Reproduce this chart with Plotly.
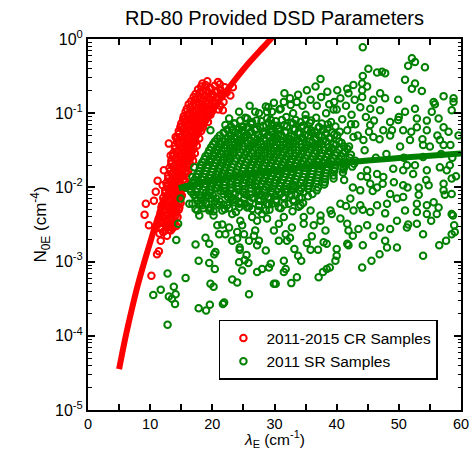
import plotly.graph_objects as go

# ---------------- data ----------------
# 2011-2015 CR samples: lambda_E (cm^-1) and log10 of N0E (cm^-4)
cr_lambda = [
    11.5, 12.1, 12.7, 13.3,
    11.2, 11.8, 12.4, 13.0, 13.6, 14.2,
    11.4, 12.0, 12.6, 13.2, 13.8, 14.4,
    11.7, 12.3, 12.9, 13.5, 14.1, 14.6,
    11.9, 12.5, 13.1, 13.7, 14.3, 14.9,
    12.1, 12.7, 13.3, 13.9, 14.5, 15.1,
    12.4, 13.0, 13.6, 14.2, 14.8, 15.3,
    12.6, 13.2, 13.8, 14.4, 15.0, 15.6,
    12.9, 13.5, 14.1, 14.7, 15.3, 15.9,
    13.1, 13.7, 14.3, 14.9, 15.5, 16.1,
    13.4, 14.0, 14.6, 15.2, 15.8, 16.4, 16.9,
    13.7, 14.3, 14.9, 15.5, 16.1, 16.7, 17.2,
    14.0, 14.6, 15.2, 15.8, 16.4, 17.0, 17.5,
    14.3, 14.9, 15.5, 16.1, 16.7, 17.3, 17.9,
    14.6, 15.2, 15.8, 16.4, 17.0, 17.6, 18.2,
    15.0, 15.6, 16.2, 16.8, 17.4, 18.0, 18.6, 19.3,
    15.4, 16.0, 16.6, 17.2, 17.8, 18.4, 19.0, 19.7,
    15.9, 16.5, 17.1, 17.7, 18.3, 18.9, 19.5, 20.2, 21.0,
    16.6, 17.2, 17.8, 18.4, 19.0, 19.6, 20.2, 20.9, 21.8,
    17.3, 18.0, 18.7, 19.4, 20.1, 20.8, 21.5, 22.3,
    18.2, 18.9, 19.6, 20.4, 21.2, 22.0,
    # in-between rows
    11.8, 12.4, 13.0, 13.6,
    11.5, 12.1, 12.7, 13.3, 13.9,
    11.7, 12.3, 12.9, 13.5, 14.1,
    11.8, 12.4, 13.0, 13.6, 14.2, 14.7,
    12.2, 12.8, 13.4, 14.0, 14.6,
    12.4, 13.0, 13.6, 14.2, 14.8,
    12.7, 13.3, 13.9, 14.5, 15.1,
    12.9, 13.5, 14.1, 14.7, 15.3,
    13.2, 13.8, 14.4, 15.0, 15.6, 16.1,
    13.4, 14.0, 14.6, 15.2, 15.8, 16.4,
    13.7, 14.3, 14.9, 15.5, 16.1, 16.7,
    14.0, 14.6, 15.2, 15.8, 16.4, 17.0,
    14.3, 14.9, 15.5, 16.1, 16.7, 17.3,
    14.6, 15.2, 15.8, 16.4, 17.0, 17.6,
    14.9, 15.5, 16.1, 16.7, 17.3, 17.9, 18.5,
    15.3, 15.9, 16.5, 17.1, 17.7, 18.3, 18.9,
    15.7, 16.3, 16.9, 17.5, 18.1, 18.7, 19.3, 20.0,
    16.2, 16.8, 17.4, 18.0, 18.6, 19.2, 19.8, 20.5, 21.3,
    17.0, 17.6, 18.2, 18.8, 19.4, 20.0, 20.7, 21.5,
    17.7, 18.4, 19.1, 19.8, 20.5, 21.3,
    # outliers
    9.1, 9.3, 9.8, 10.2, 10.6, 10.9, 11.1, 11.4, 11.7, 11.2,
    12.2, 12.0, 13.3, 13.0, 14.1, 14.9, 15.7, 21.7, 22.9, 23.3,
    18.4, 20.9, 19.2,
]
cr_log10_n0 = [
    -2.62, -2.60, -2.65, -2.58,
    -2.50, -2.54, -2.50, -2.53, -2.49, -2.52,
    -2.42, -2.40, -2.44, -2.41, -2.43, -2.40,
    -2.33, -2.31, -2.35, -2.32, -2.34, -2.30,
    -2.24, -2.22, -2.26, -2.23, -2.25, -2.21,
    -2.14, -2.12, -2.16, -2.13, -2.15, -2.11,
    -2.04, -2.02, -2.06, -2.03, -2.05, -2.01,
    -1.94, -1.92, -1.96, -1.93, -1.95, -1.91,
    -1.84, -1.82, -1.86, -1.83, -1.85, -1.81,
    -1.74, -1.72, -1.76, -1.73, -1.75, -1.71,
    -1.64, -1.62, -1.66, -1.63, -1.65, -1.61, -1.64,
    -1.54, -1.52, -1.56, -1.53, -1.55, -1.51, -1.54,
    -1.44, -1.42, -1.46, -1.43, -1.45, -1.41, -1.44,
    -1.34, -1.32, -1.36, -1.33, -1.35, -1.31, -1.34,
    -1.24, -1.22, -1.26, -1.23, -1.25, -1.21, -1.24,
    -1.14, -1.12, -1.16, -1.13, -1.15, -1.11, -1.14, -1.12,
    -1.04, -1.02, -1.06, -1.03, -1.05, -1.01, -1.04, -1.02,
    -0.94, -0.92, -0.96, -0.93, -0.95, -0.91, -0.94, -0.92, -0.95,
    -0.84, -0.82, -0.86, -0.83, -0.85, -0.81, -0.84, -0.82, -0.85,
    -0.74, -0.72, -0.76, -0.73, -0.75, -0.71, -0.74, -0.72,
    -0.64, -0.62, -0.66, -0.63, -0.61, -0.65,
    # in-between rows
    -2.56, -2.58, -2.57, -2.55,
    -2.46, -2.48, -2.47, -2.45, -2.48,
    -2.36, -2.38, -2.37, -2.35, -2.38,
    -2.27, -2.29, -2.28, -2.26, -2.29, -2.27,
    -2.18, -2.20, -2.19, -2.17, -2.20,
    -2.08, -2.10, -2.09, -2.07, -2.10,
    -1.98, -2.00, -1.99, -1.97, -2.00,
    -1.88, -1.90, -1.89, -1.87, -1.90,
    -1.78, -1.80, -1.79, -1.77, -1.80, -1.78,
    -1.68, -1.70, -1.69, -1.67, -1.70, -1.68,
    -1.58, -1.60, -1.59, -1.57, -1.60, -1.58,
    -1.48, -1.50, -1.49, -1.47, -1.50, -1.48,
    -1.38, -1.40, -1.39, -1.37, -1.40, -1.38,
    -1.28, -1.30, -1.29, -1.27, -1.30, -1.28,
    -1.18, -1.20, -1.19, -1.17, -1.20, -1.18, -1.19,
    -1.08, -1.10, -1.09, -1.07, -1.10, -1.08, -1.09,
    -0.98, -1.00, -0.99, -0.97, -1.00, -0.98, -0.99, -0.97,
    -0.88, -0.90, -0.89, -0.87, -0.90, -0.88, -0.89, -0.87, -0.90,
    -0.78, -0.80, -0.79, -0.77, -0.80, -0.78, -0.79, -0.77,
    -0.68, -0.70, -0.69, -0.67, -0.70, -0.68,
    # outliers
    -2.37, -2.22, -2.51, -3.19, -2.18, -2.06, -2.90, -2.86, -2.72, -1.91,
    -1.77, -1.97, -1.57, -1.41, -1.32, -1.19, -1.07, -0.96, -0.76, -0.65,
    -0.60, -0.58, -0.57,
]

# 2011 SR samples: lambda_E (cm^-1) and log10 of N0E (cm^-4)
sr_lambda = [
    # dense core
    25.3, 27.1, 28.8, 30.2, 31.9, 33.4, 35.0, 36.7,
    23.6, 25.0, 26.3, 27.7, 29.0, 30.4, 31.6, 33.0, 34.3, 35.7, 37.1, 38.6,
    22.4, 23.7, 24.8, 26.0, 27.1, 28.3, 29.5, 30.6, 31.8, 33.0, 34.1, 35.3, 36.5, 37.8, 39.2,
    21.2, 22.5, 23.5, 24.6, 25.6, 26.7, 27.8, 28.9, 30.0, 31.1, 32.2, 33.2, 34.3, 35.4, 36.5, 37.6, 38.8, 40.1,
    20.4, 21.5, 22.6, 23.6, 24.6, 25.7, 26.7, 27.7, 28.8, 29.8, 30.9, 31.9, 33.0, 34.0, 35.1, 36.1, 37.2, 38.3, 39.5, 40.8,
    19.8, 20.9, 21.9, 22.9, 23.9, 24.9, 25.9, 26.9, 27.9, 28.9, 29.9, 30.9, 31.9, 32.9, 33.9, 34.9, 35.9, 37.0, 38.1, 39.2, 40.4, 41.7,
    19.3, 20.3, 21.3, 22.3, 23.3, 24.3, 25.3, 26.3, 27.3, 28.3, 29.3, 30.3, 31.3, 32.3, 33.3, 34.3, 35.3, 36.4, 37.5, 38.6, 39.8, 41.0, 42.3,
    18.7, 19.7, 20.7, 21.7, 22.7, 23.7, 24.7, 25.7, 26.7, 27.7, 28.7, 29.7, 30.7, 31.7, 32.7, 33.7, 34.7, 35.8, 36.9, 38.0, 39.2, 40.4, 41.7, 43.0,
    18.2, 19.2, 20.2, 21.2, 22.2, 23.2, 24.2, 25.2, 26.2, 27.2, 28.2, 29.2, 30.2, 31.2, 32.2, 33.2, 34.2, 35.2, 36.3, 37.4, 38.6, 39.8, 41.1, 42.5,
    17.9, 18.9, 19.9, 20.9, 21.9, 22.9, 23.9, 24.9, 25.9, 26.9, 27.9, 28.9, 29.9, 30.9, 31.9, 32.9, 33.9, 34.9, 36.0, 37.1, 38.3, 39.6, 41.0,
    17.4, 18.4, 19.4, 20.4, 21.4, 22.4, 23.4, 24.4, 25.4, 26.4, 27.4, 28.4, 29.4, 30.4, 31.4, 32.4, 33.5, 34.6, 35.7, 36.9, 38.1, 39.5,
    16.8, 17.9, 18.9, 19.9, 20.9, 21.9, 22.9, 23.9, 24.9, 25.9, 26.9, 27.9, 28.9, 29.9, 30.9, 32.0, 33.1, 34.2, 35.4, 36.7, 38.0,
    16.3, 17.4, 18.5, 19.6, 20.7, 21.8, 22.9, 24.0, 25.1, 26.2, 27.3, 28.4, 29.5, 30.6, 31.7, 32.9, 34.1, 35.4, 36.8,
    17.0, 18.2, 19.4, 20.6, 21.8, 23.0, 24.2, 25.4, 26.6, 27.8, 29.0, 30.2, 31.4, 32.7, 34.0, 35.4,
    17.6, 19.0, 20.4, 21.8, 23.2, 24.6, 26.0, 27.4, 28.8, 30.2, 31.6, 33.1, 34.6,
    18.5, 20.2, 22.0, 23.8, 25.6, 27.4, 29.2, 31.0, 32.9,
    # dense core, in-between rows
    24.5, 26.2, 27.9, 29.6, 31.2, 32.7, 34.2, 35.9, 37.6,
    23.0, 24.3, 25.6, 26.9, 28.2, 29.4, 30.7, 32.0, 33.3, 34.6, 35.9, 37.2, 38.5, 39.8,
    21.8, 23.0, 24.1, 25.2, 26.2, 27.3, 28.4, 29.5, 30.6, 31.7, 32.7, 33.8, 34.9, 36.0, 37.1, 38.3, 39.6,
    20.8, 22.0, 23.0, 24.1, 25.1, 26.2, 27.2, 28.3, 29.3, 30.4, 31.4, 32.5, 33.5, 34.6, 35.6, 36.7, 37.8, 39.0, 40.4,
    20.1, 21.1, 22.2, 23.2, 24.2, 25.2, 26.2, 27.3, 28.3, 29.3, 30.3, 31.4, 32.4, 33.4, 34.4, 35.4, 36.5, 37.6, 38.7, 39.9, 41.2,
    19.5, 20.5, 21.5, 22.5, 23.5, 24.5, 25.5, 26.5, 27.5, 28.5, 29.5, 30.5, 31.5, 32.5, 33.5, 34.5, 35.5, 36.6, 37.7, 38.8, 40.0, 41.3,
    18.9, 19.9, 20.9, 21.9, 22.9, 23.9, 24.9, 25.9, 26.9, 27.9, 28.9, 29.9, 30.9, 31.9, 32.9, 33.9, 35.0, 36.1, 37.2, 38.3, 39.5, 40.8, 42.1,
    18.4, 19.4, 20.4, 21.4, 22.4, 23.4, 24.4, 25.4, 26.4, 27.4, 28.4, 29.4, 30.4, 31.4, 32.4, 33.4, 34.4, 35.5, 36.6, 37.7, 38.9, 40.1, 41.4, 42.8,
    18.0, 19.0, 20.0, 21.0, 22.0, 23.0, 24.0, 25.0, 26.0, 27.0, 28.0, 29.0, 30.0, 31.0, 32.0, 33.0, 34.0, 35.0, 36.1, 37.2, 38.4, 39.7, 41.1,
    17.6, 18.6, 19.6, 20.6, 21.6, 22.6, 23.6, 24.6, 25.6, 26.6, 27.6, 28.6, 29.6, 30.6, 31.6, 32.6, 33.7, 34.8, 35.9, 37.0, 38.2, 39.5,
    17.1, 18.1, 19.1, 20.1, 21.1, 22.1, 23.1, 24.1, 25.1, 26.1, 27.1, 28.1, 29.1, 30.1, 31.1, 32.2, 33.3, 34.4, 35.6, 36.8, 38.1,
    16.5, 17.6, 18.7, 19.8, 20.9, 22.0, 23.1, 24.2, 25.3, 26.4, 27.5, 28.6, 29.7, 30.8, 31.9, 33.1, 34.3, 35.6, 37.0,
    16.6, 17.8, 19.0, 20.1, 21.3, 22.5, 23.7, 24.9, 26.1, 27.3, 28.5, 29.7, 30.9, 32.1, 33.4, 34.7, 36.1,
    17.3, 18.6, 19.9, 21.2, 22.5, 23.8, 25.1, 26.4, 27.7, 29.0, 30.3, 31.6, 33.0, 34.4,
    18.0, 19.6, 21.1, 22.7, 24.3, 25.9, 27.5, 29.1, 30.7, 32.3, 33.9,
    # lower-left tail
    10.5, 11.7, 12.8, 13.0, 13.5, 13.8, 14.1, 14.0, 12.8, 14.5,
    14.2, 15.7, 17.8, 19.0, 19.6, 19.7, 20.2, 17.8, 17.3, 18.9,
    19.5, 19.5, 20.3, 20.5, 20.4, 21.7, 21.9, 23.2, 24.0, 24.3,
    24.8, 24.4, 25.9, 25.2, 25.5, 25.8, 27.2, 28.0, 29.1, 28.6,
    27.2, 27.5, 26.9, 26.7, 25.9, 25.1, 24.0, 22.1, 21.1, 21.6,
    20.8, 22.7, 23.2, 24.5, 24.8, 26.4, 27.2, 28.0, 28.8, 24.0,
    23.2, 24.4, 29.9,
    16.8, 17.6, 18.4, 19.7, 20.8, 21.6, 22.4, 23.5, 24.3, 25.3, 26.4, 27.5, 28.6, 29.6,
    # lower-right
    30.2, 32.7, 33.6, 31.5, 31.8, 31.5, 29.4, 37.1, 37.8, 38.4,
    38.9, 39.8, 40.0, 34.3, 33.8, 33.2, 35.8, 37.0, 35.2, 36.0,
    37.9, 38.4, 38.2, 40.0, 41.7, 41.9, 42.6, 44.2, 44.1, 45.6,
    46.9, 48.1, 47.8, 49.7, 51.3, 52.9, 53.9, 53.9, 56.5, 57.6,
    58.5, 58.9, 58.7, 56.1, 54.5, 52.9, 51.0, 49.7, 48.6, 47.0,
    45.9, 44.9, 43.5, 41.9, 41.7, 40.6, 39.2, 37.4, 36.3, 34.7,
    32.8, 30.7, 29.9, 32.0, 30.7, 31.8, 32.5, 35.8, 34.2, 42.7,
    43.8, 45.4, 46.5, 48.1,
    # upper-right
    44.2, 52.1, 52.6, 51.5, 54.2, 45.1, 46.5, 47.3, 47.8, 44.2,
    37.4, 51.0, 52.6, 36.6, 35.2, 31.6, 29.9, 52.1, 53.7, 57.2,
    58.8, 58.8, 58.5, 42.7, 44.1, 44.1, 44.1, 44.9, 40.1, 41.7,
    41.9, 38.5, 40.6, 47.0, 47.8, 45.9, 49.9, 51.0, 52.6, 55.6,
    55.8, 55.3, 56.4, 57.2, 52.9, 49.9, 48.6, 47.0, 45.4, 33.6,
    32.6, 31.0, 29.6, 52.9, 54.5, 50.7, 48.9, 47.5, 45.9, 44.3,
    42.7, 41.7, 45.4, 51.8, 53.9, 56.6, 57.2, 58.3, 53.9, 51.3,
    50.7, 52.3, 54.5, 56.6, 58.2, 57.7, 58.5, 57.2, 54.8, 53.2,
    50.7, 49.2, 47.5, 46.5, 44.9, 44.9, 45.4, 46.5, 48.6, 50.7,
    52.9, 54.5, 56.4, 58.5, 57.2, 58.5, 43.8, 42.2, 40.6, 39.0,
    37.4, 34.7, 31.5,
    # upper-left edge
    19.7, 24.3, 25.6, 26.9, 28.6, 28.8, 29.4, 22.7, 22.1, 23.5,
    21.9, 23.2, 24.8, 26.4, 21.1, 20.8, 19.5, 18.1, 17.1, 16.8,
    15.7, 14.9, 16.3, 17.3, 17.9, 19.5, 20.2, 18.9, 20.5,
    # right-side scatter
    40.5, 41.2, 42.0, 42.6, 43.4, 43.9, 44.5, 45.2, 45.8, 46.3,
    46.9, 47.4, 48.0, 48.6, 49.1, 49.7, 50.2, 50.8, 51.4, 52.0,
    52.6, 53.2, 53.8, 54.4, 55.0, 55.6, 56.2, 56.8, 57.4, 58.0,
    58.6, 59.2, 59.6, 41.5, 44.2, 47.8, 51.5, 55.2, 59.0, 42.3,
    46.0, 50.0, 54.5,
    # above core
    38.3, 39.1, 40.0, 40.9, 41.5, 42.4, 43.0, 43.8, 44.7, 39.6,
    42.9, 31.5, 32.5, 33.8, 34.5, 35.8, 36.8, 37.5, 38.8, 39.5,
    27.5, 26.0, 30.8, 33.0, 35.0, 29.0,
]
sr_log10_n0 = [
    # dense core
    -1.06, -1.10, -1.07, -1.11, -1.05, -1.09, -1.08, -1.06,
    -1.14, -1.18, -1.15, -1.19, -1.13, -1.17, -1.16, -1.14, -1.18, -1.13, -1.19, -1.15,
    -1.22, -1.26, -1.23, -1.27, -1.21, -1.25, -1.24, -1.22, -1.26, -1.21, -1.27, -1.23, -1.25, -1.22, -1.26,
    -1.30, -1.34, -1.31, -1.35, -1.29, -1.33, -1.32, -1.30, -1.34, -1.29, -1.35, -1.31, -1.33, -1.30, -1.34, -1.31, -1.33, -1.30,
    -1.38, -1.42, -1.39, -1.43, -1.37, -1.41, -1.40, -1.38, -1.42, -1.37, -1.43, -1.39, -1.41, -1.38, -1.42, -1.39, -1.41, -1.38, -1.42, -1.40,
    -1.46, -1.50, -1.47, -1.51, -1.45, -1.49, -1.48, -1.46, -1.50, -1.45, -1.51, -1.47, -1.49, -1.46, -1.50, -1.47, -1.49, -1.46, -1.50, -1.47, -1.49, -1.48,
    -1.54, -1.58, -1.55, -1.59, -1.53, -1.57, -1.56, -1.54, -1.58, -1.53, -1.59, -1.55, -1.57, -1.54, -1.58, -1.55, -1.57, -1.54, -1.58, -1.55, -1.57, -1.54, -1.56,
    -1.62, -1.66, -1.63, -1.67, -1.61, -1.65, -1.64, -1.62, -1.66, -1.61, -1.67, -1.63, -1.65, -1.62, -1.66, -1.63, -1.65, -1.62, -1.66, -1.63, -1.65, -1.62, -1.66, -1.64,
    -1.70, -1.74, -1.71, -1.75, -1.69, -1.73, -1.72, -1.70, -1.74, -1.69, -1.75, -1.71, -1.73, -1.70, -1.74, -1.71, -1.73, -1.70, -1.74, -1.71, -1.73, -1.70, -1.74, -1.72,
    -1.78, -1.82, -1.79, -1.83, -1.77, -1.81, -1.80, -1.78, -1.82, -1.77, -1.83, -1.79, -1.81, -1.78, -1.82, -1.79, -1.81, -1.78, -1.82, -1.79, -1.81, -1.78, -1.80,
    -1.86, -1.90, -1.87, -1.91, -1.85, -1.89, -1.88, -1.86, -1.90, -1.85, -1.91, -1.87, -1.89, -1.86, -1.90, -1.87, -1.89, -1.86, -1.90, -1.87, -1.89, -1.88,
    -1.94, -1.98, -1.95, -1.99, -1.93, -1.97, -1.96, -1.94, -1.98, -1.93, -1.99, -1.95, -1.97, -1.94, -1.98, -1.95, -1.97, -1.94, -1.98, -1.95, -1.96,
    -2.02, -2.06, -2.03, -2.07, -2.01, -2.05, -2.04, -2.02, -2.06, -2.01, -2.07, -2.03, -2.05, -2.02, -2.06, -2.03, -2.05, -2.02, -2.04,
    -2.10, -2.14, -2.11, -2.15, -2.09, -2.13, -2.12, -2.10, -2.14, -2.09, -2.15, -2.11, -2.13, -2.10, -2.14, -2.12,
    -2.18, -2.22, -2.19, -2.23, -2.17, -2.21, -2.20, -2.18, -2.22, -2.17, -2.23, -2.19, -2.21,
    -2.28, -2.32, -2.29, -2.33, -2.27, -2.31, -2.30, -2.28, -2.32,
    # dense core, in-between rows
    -1.10, -1.14, -1.11, -1.15, -1.09, -1.13, -1.12, -1.10, -1.14,
    -1.18, -1.22, -1.19, -1.23, -1.17, -1.21, -1.20, -1.18, -1.22, -1.17, -1.23, -1.19, -1.21, -1.18,
    -1.26, -1.30, -1.27, -1.31, -1.25, -1.29, -1.28, -1.26, -1.30, -1.25, -1.31, -1.27, -1.29, -1.26, -1.30, -1.27, -1.29,
    -1.34, -1.38, -1.35, -1.39, -1.33, -1.37, -1.36, -1.34, -1.38, -1.33, -1.39, -1.35, -1.37, -1.34, -1.38, -1.35, -1.37, -1.34, -1.38,
    -1.42, -1.46, -1.43, -1.47, -1.41, -1.45, -1.44, -1.42, -1.46, -1.41, -1.47, -1.43, -1.45, -1.42, -1.46, -1.43, -1.45, -1.42, -1.46, -1.43, -1.45,
    -1.50, -1.54, -1.51, -1.55, -1.49, -1.53, -1.52, -1.50, -1.54, -1.49, -1.55, -1.51, -1.53, -1.50, -1.54, -1.51, -1.53, -1.50, -1.54, -1.51, -1.53, -1.52,
    -1.58, -1.62, -1.59, -1.63, -1.57, -1.61, -1.60, -1.58, -1.62, -1.57, -1.63, -1.59, -1.61, -1.58, -1.62, -1.59, -1.61, -1.58, -1.62, -1.59, -1.61, -1.58, -1.60,
    -1.66, -1.70, -1.67, -1.71, -1.65, -1.69, -1.68, -1.66, -1.70, -1.65, -1.71, -1.67, -1.69, -1.66, -1.70, -1.67, -1.69, -1.66, -1.70, -1.67, -1.69, -1.66, -1.70, -1.68,
    -1.74, -1.78, -1.75, -1.79, -1.73, -1.77, -1.76, -1.74, -1.78, -1.73, -1.79, -1.75, -1.77, -1.74, -1.78, -1.75, -1.77, -1.74, -1.78, -1.75, -1.77, -1.74, -1.76,
    -1.82, -1.86, -1.83, -1.87, -1.81, -1.85, -1.84, -1.82, -1.86, -1.81, -1.87, -1.83, -1.85, -1.82, -1.86, -1.83, -1.85, -1.82, -1.86, -1.83, -1.85, -1.84,
    -1.90, -1.94, -1.91, -1.95, -1.89, -1.93, -1.92, -1.90, -1.94, -1.89, -1.95, -1.91, -1.93, -1.90, -1.94, -1.91, -1.93, -1.90, -1.94, -1.91, -1.93,
    -1.98, -2.02, -1.99, -2.03, -1.97, -2.01, -2.00, -1.98, -2.02, -1.97, -2.03, -1.99, -2.01, -1.98, -2.02, -1.99, -2.01, -1.98, -2.00,
    -2.06, -2.10, -2.07, -2.11, -2.05, -2.09, -2.08, -2.06, -2.10, -2.05, -2.11, -2.07, -2.09, -2.06, -2.10, -2.07, -2.09,
    -2.14, -2.18, -2.15, -2.19, -2.13, -2.17, -2.16, -2.14, -2.18, -2.13, -2.19, -2.15, -2.17, -2.14,
    -2.23, -2.27, -2.24, -2.28, -2.22, -2.26, -2.25, -2.23, -2.27, -2.22, -2.26,
    # lower-left tail
    -3.45, -3.38, -3.16, -3.47, -3.50, -3.34, -3.44, -3.57, -3.85, -2.49,
    -2.71, -3.22, -3.63, -3.66, -3.58, -3.30, -3.34, -2.99, -2.77, -2.68,
    -2.76, -3.02, -2.90, -2.87, -3.10, -3.57, -3.55, -3.24, -3.28, -3.01,
    -3.12, -2.81, -3.44, -2.98, -2.91, -3.02, -3.14, -3.10, -3.08, -2.85,
    -2.78, -2.72, -2.58, -2.65, -2.72, -2.63, -2.60, -2.63, -2.63, -2.50,
    -2.51, -2.54, -2.36, -2.45, -2.51, -2.40, -2.45, -2.36, -2.42, -2.69,
    -2.72, -2.84, -3.30,
    -2.22, -2.31, -2.24, -2.29, -2.22, -2.31, -2.24, -2.20, -2.27, -2.22, -2.29, -2.24, -2.31, -2.22,
    # lower-right
    -3.30, -3.29, -3.21, -3.14, -3.10, -2.99, -3.03, -3.21, -3.14, -3.10,
    -3.08, -2.99, -2.92, -2.99, -2.92, -2.83, -2.84, -2.84, -2.75, -2.66,
    -2.74, -2.76, -2.58, -2.83, -2.76, -2.78, -2.65, -2.78, -3.08, -2.99,
    -2.90, -2.81, -2.72, -2.81, -2.54, -2.49, -2.63, -2.92, -2.78, -2.72,
    -2.63, -2.51, -2.38, -2.36, -2.36, -2.33, -2.31, -2.45, -2.56, -2.54,
    -2.65, -2.51, -2.56, -2.58, -2.49, -2.42, -2.36, -2.45, -2.51, -2.49,
    -2.54, -2.49, -2.58, -2.72, -2.72, -2.63, -2.68, -2.31, -2.24, -2.31,
    -2.24, -2.33, -2.24, -2.22,
    # upper-right
    -0.11, -0.26, -0.31, -0.36, -0.38, -0.40, -0.45, -0.44, -0.46, -0.50,
    -0.54, -0.55, -0.60, -0.64, -0.69, -0.73, -0.86, -0.67, -0.70, -0.77,
    -0.80, -0.85, -0.96, -0.62, -0.60, -0.69, -0.78, -0.64, -0.69, -0.67,
    -0.73, -0.71, -0.80, -0.73, -0.80, -0.82, -0.82, -0.98, -0.94, -0.85,
    -0.88, -0.98, -1.07, -1.19, -1.07, -1.09, -1.12, -0.96, -0.94, -0.85,
    -0.89, -0.94, -0.98, -1.19, -1.23, -1.23, -1.23, -1.23, -1.32, -1.36,
    -1.32, -1.23, -1.16, -1.36, -1.43, -1.36, -1.43, -1.43, -1.59, -1.70,
    -1.77, -1.82, -1.77, -1.73, -1.70, -1.77, -1.88, -1.95, -1.97, -2.00,
    -1.97, -1.93, -1.86, -1.82, -1.77, -1.86, -1.95, -2.00, -2.09, -2.13,
    -2.22, -2.24, -2.27, -2.36, -2.04, -2.09, -2.04, -2.15, -2.22, -2.31,
    -2.38, -2.40, -2.40,
    # upper-left edge
    -1.23, -0.98, -1.07, -0.98, -0.91, -0.98, -1.09, -1.07, -1.16, -1.14,
    -1.27, -1.23, -1.19, -1.12, -1.41, -1.50, -1.64, -1.70, -1.73, -1.86,
    -2.00, -2.15, -2.22, -2.29, -2.38, -2.31, -2.38, -2.13, -2.00,
    # right-side scatter
    -1.25, -1.90, -1.45, -2.00, -1.30, -1.85, -1.50, -1.25, -2.05, -1.60,
    -1.35, -1.95, -1.55, -1.30, -1.75, -2.15, -1.45, -1.60, -2.00, -1.25,
    -1.70, -2.10, -1.35, -1.90, -1.45, -2.20, -1.30, -1.55, -2.10, -1.25,
    -1.60, -1.85, -1.30, -2.25, -2.30, -2.35, -2.50, -2.45, -2.60, -1.15,
    -1.10, -1.05, -1.10,
    # above core
    -1.00, -1.12, -0.95, -1.08, -0.90, -1.02, -1.15, -0.92, -1.05, -0.85,
    -0.82, -0.85, -0.80, -0.75, -0.90, -0.82, -0.90, -0.78, -0.88, -0.95,
    -1.00, -0.90, -0.95, -1.00, -1.02, -0.92,
]

# fitted curves drawn in the reference
cr_fit_lambda = [5, 6, 7, 8, 9, 10, 11, 12, 14, 16, 18, 20, 22, 24, 26, 28, 29.4, 29.8]
cr_fit_log10_n0 = [-4.45, -4.03, -3.66, -3.32, -3.02, -2.74, -2.47, -2.24, -1.86, -1.53,
                   -1.235, -0.97, -0.73, -0.513, -0.31, -0.126, 0.0, 0.05]
sr_fit_lambda = [14.6, 17, 20, 25, 30, 35, 40, 45, 50, 55, 60]
sr_fit_log10_n0 = [-2.01, -1.96, -1.906, -1.832, -1.772, -1.721, -1.677, -1.638, -1.604, -1.572, -1.543]

assert len(cr_lambda) == len(cr_log10_n0), (len(cr_lambda), len(cr_log10_n0))
assert len(sr_lambda) == len(sr_log10_n0), (len(sr_lambda), len(sr_log10_n0))

y_tick_vals = [1e-5, 1e-4, 1e-3, 1e-2, 1e-1, 1]
y_tick_text = ["10<sup>-5</sup>", "10<sup>-4</sup>", "10<sup>-3</sup>",
               "10<sup>-2</sup>", "10<sup>-1</sup>", "10<sup>0</sup>"]
y_minor_vals = [m * d for d in (1e-5, 1e-4, 1e-3, 1e-2, 1e-1) for m in range(2, 10)]
x_title = "<i>λ</i><sub>E</sub> (cm<sup>-1</sup>)"

RED = "#ff0000"
GREEN = "#008000"

cr_n0 = [10 ** v for v in cr_log10_n0]
sr_n0 = [10 ** v for v in sr_log10_n0]
cr_fit_n0 = [10 ** v for v in cr_fit_log10_n0]
sr_fit_n0 = [10 ** v for v in sr_fit_log10_n0]

fig = go.Figure()
fig.add_trace(go.Scatter(
    x=cr_lambda, y=cr_n0, mode="markers", name="2011-2015 CR Samples",
    marker=dict(symbol="circle-open", size=6.5, color=RED, line=dict(width=2, color=RED)),
))
fig.add_trace(go.Scatter(
    x=cr_fit_lambda, y=cr_fit_n0, mode="lines", showlegend=False,
    line=dict(color=RED, width=6, shape="spline"),
))
fig.add_trace(go.Scatter(
    x=sr_lambda, y=sr_n0, mode="markers", name="2011 SR Samples",
    marker=dict(symbol="circle-open", size=6.5, color=GREEN, line=dict(width=2, color=GREEN)),
))
fig.add_trace(go.Scatter(
    x=sr_fit_lambda, y=sr_fit_n0, mode="lines", showlegend=False,
    line=dict(color=GREEN, width=6, shape="spline"),
))

FONT = "Liberation Sans, Arial, Helvetica, sans-serif"

fig.update_layout(
    width=472, height=450,
    margin=dict(l=88, r=11, t=39, b=40),
    paper_bgcolor="white", plot_bgcolor="white",
    font=dict(family=FONT, size=16, color="black"),
    title=dict(text="RD-80 Provided DSD Parameters", x=0.5, xref="paper", xanchor="center",
               y=1 - 18 / 450, yref="container", yanchor="middle",
               font=dict(family=FONT, size=20, color="black")),
    showlegend=True,
    legend=dict(x=0.351, y=0.2426, xanchor="left", yanchor="top",
                bgcolor="white", bordercolor="black", borderwidth=1.5, itemwidth=36,
                font=dict(family=FONT, size=15.5, color="black"), tracegroupgap=0),
    annotations=[dict(text=x_title, xref="paper", yref="paper", x=0.5, y=-0.079,
                      xanchor="center", yanchor="middle", showarrow=False,
                      font=dict(family=FONT, size=15.5, color="black"))],
)
fig.update_xaxes(
    range=[0, 60], tick0=0, dtick=10, ticks="inside", ticklen=6, tickwidth=1.5,
    tickcolor="black", showline=True, linewidth=2, linecolor="black",
    mirror="allticks", showgrid=False, zeroline=False, automargin=False,
    tickfont=dict(family=FONT, size=14.5, color="black"),
    minor=dict(dtick=5, tick0=0, ticks="inside", ticklen=6, tickwidth=1.5,
               tickcolor="black", showgrid=False),
)
fig.update_yaxes(
    type="log", range=[-5, 0], tickmode="array", tickvals=y_tick_vals, ticktext=y_tick_text,
    ticks="inside", ticklen=7, tickwidth=1.5, tickcolor="black",
    showline=True, linewidth=2, linecolor="black", mirror="allticks",
    showgrid=False, zeroline=False, automargin=False,
    tickfont=dict(family=FONT, size=16, color="black"),
    minor=dict(tickmode="array", tickvals=y_minor_vals, ticks="inside", ticklen=3.5,
               tickwidth=1.2, tickcolor="black", showgrid=False),
    title=dict(text="N<sub>0E</sub> (cm<sup>-4</sup>)", standoff=4,
               font=dict(family=FONT, size=17, color="black")),
)

fig.write_html("out.html")
